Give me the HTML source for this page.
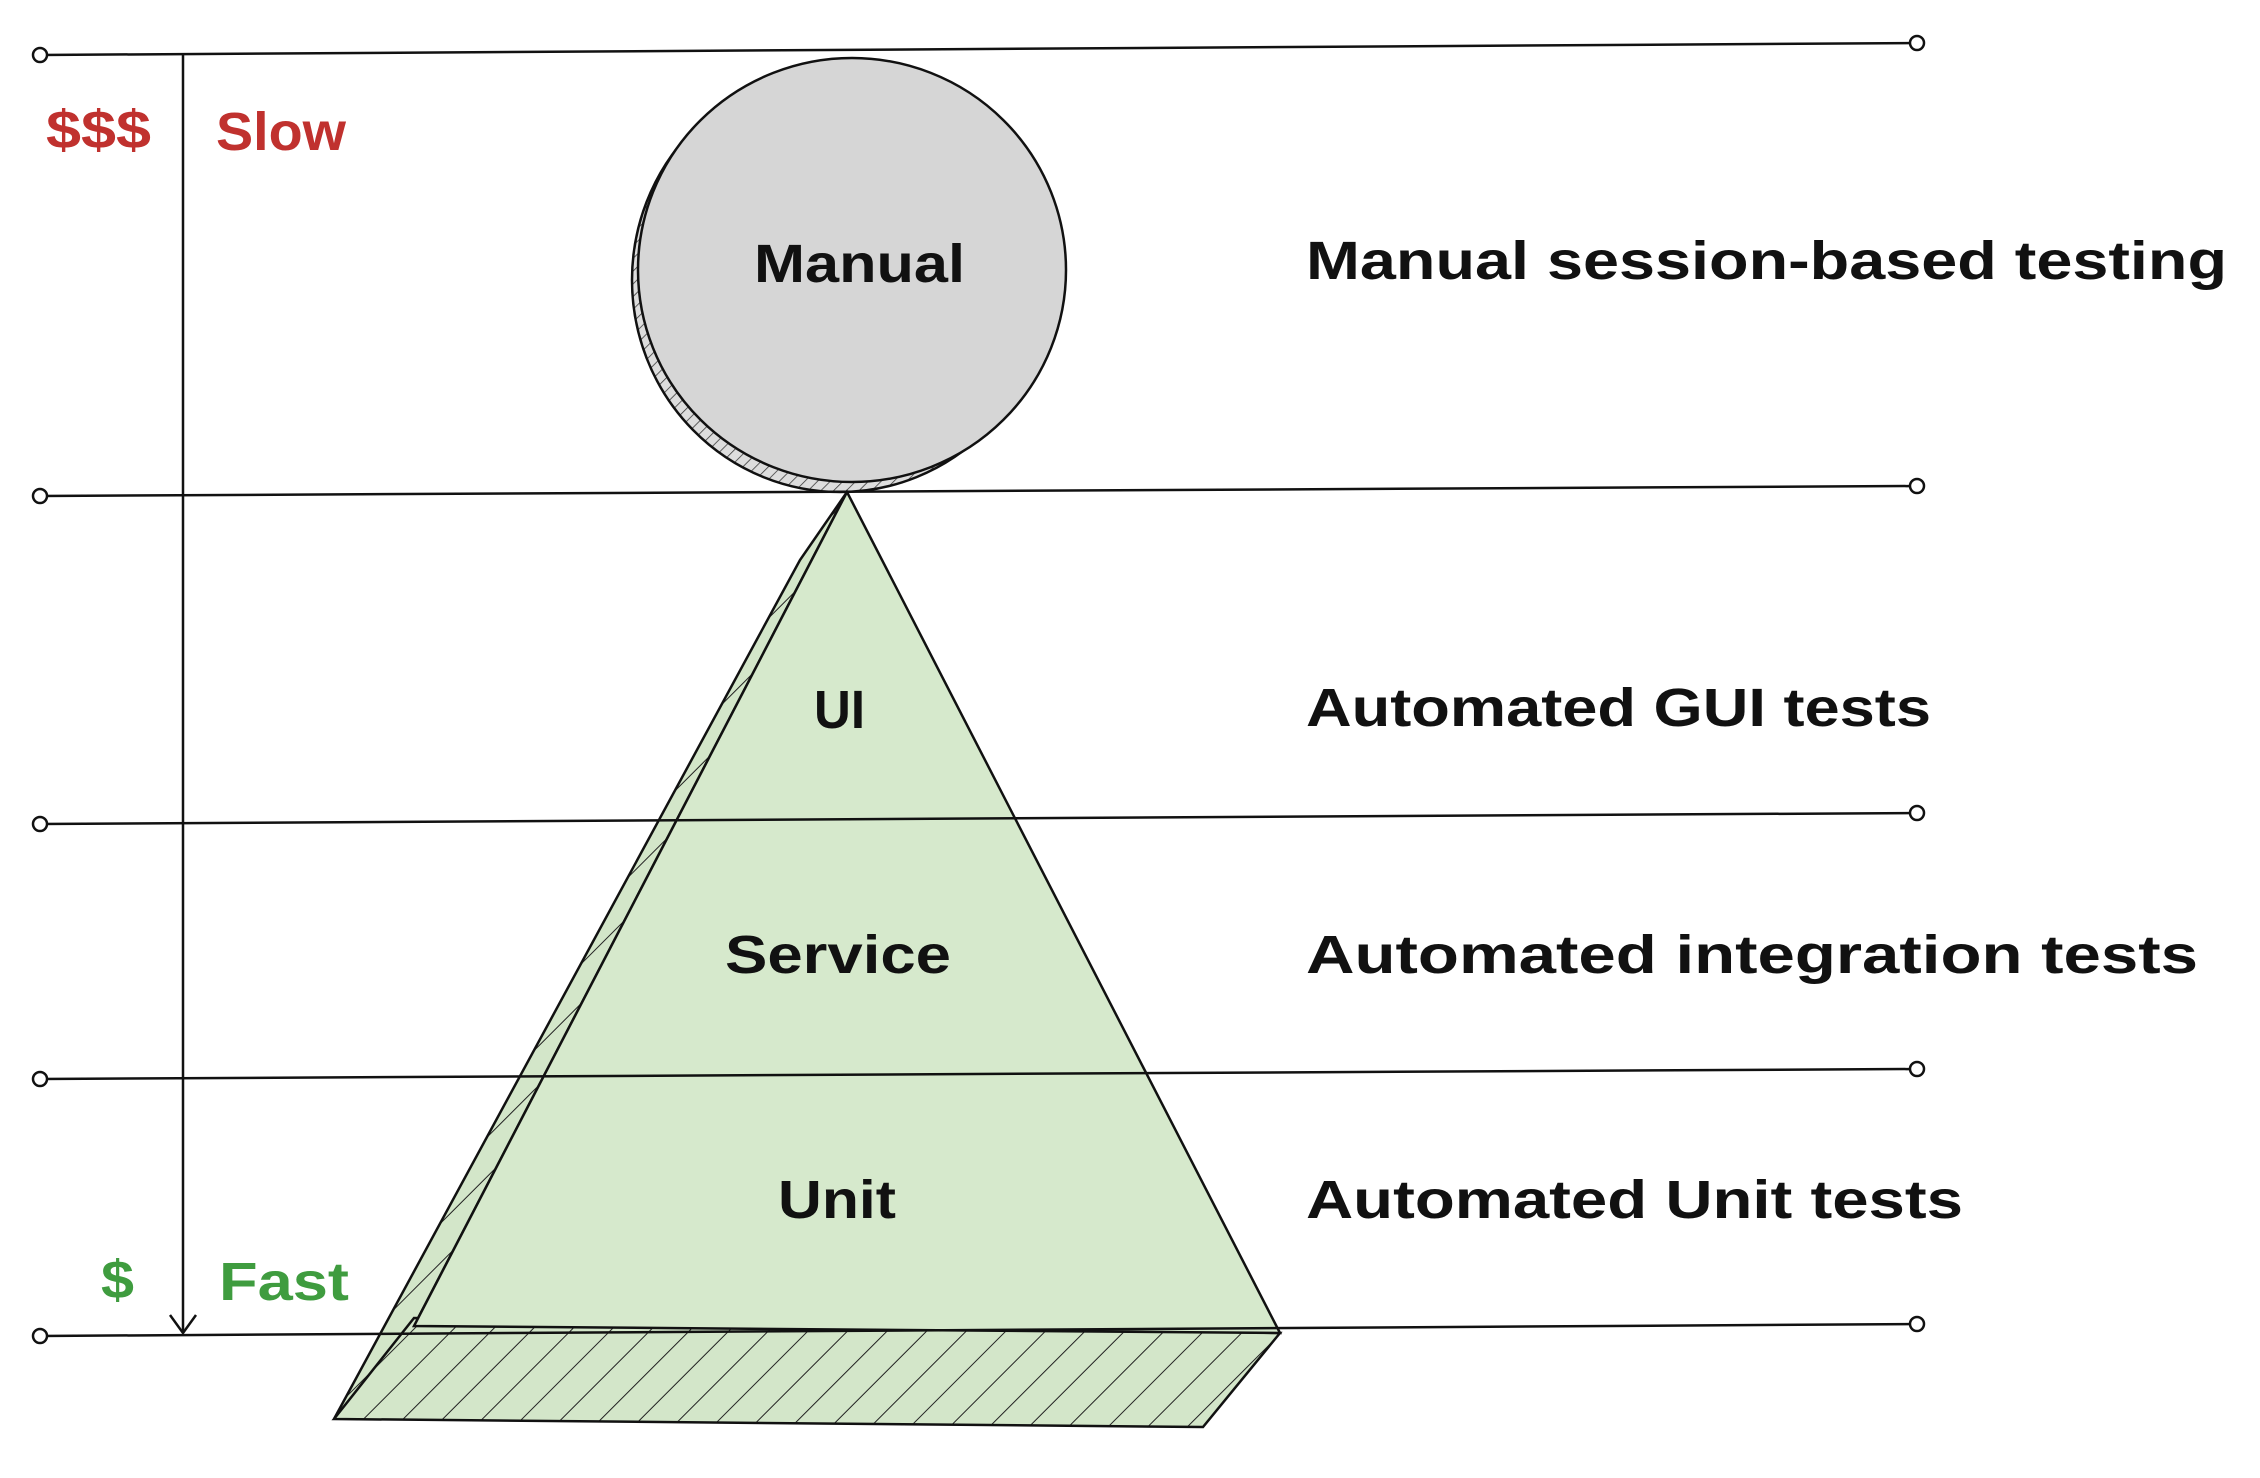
<!DOCTYPE html>
<html><head><meta charset="utf-8"><style>html,body{margin:0;padding:0;background:#fff}svg{display:block}</style></head>
<body>
<svg width="2260" height="1478" viewBox="0 0 2260 1478" xmlns="http://www.w3.org/2000/svg">
<defs>
<pattern id="h" width="28" height="28" patternUnits="userSpaceOnUse" patternTransform="rotate(45)">
<rect width="28" height="28" fill="#d3e6c9"/><line x1="0" y1="0" x2="0" y2="28" stroke="#222" stroke-width="2"/></pattern>
<pattern id="hg" width="9" height="9" patternUnits="userSpaceOnUse" patternTransform="rotate(45)">
<rect width="9" height="9" fill="#ddd"/><line x1="0" y1="0" x2="0" y2="9" stroke="#333" stroke-width="1.5"/></pattern>
</defs>
<g stroke="#111" stroke-width="2.5" fill="none">
<ellipse cx="840" cy="280" rx="208" ry="212" fill="url(#hg)"/>
<ellipse cx="852" cy="270" rx="214" ry="212" fill="#d6d6d6"/>
<path d="M847,492 L800,560 L334,1419 L414,1326 Z" fill="url(#h)"/>
<path d="M334,1419 L1203,1427 L1280,1333 L414,1318 Z" fill="url(#h)"/>
<path d="M847,492 L414,1326 L1280,1333 Z" fill="#d6e9cc"/>
<line x1="40" y1="55" x2="1917" y2="43"/>
<line x1="40" y1="496" x2="1917" y2="486"/>
<line x1="40" y1="824" x2="1917" y2="813"/>
<line x1="40" y1="1079" x2="1917" y2="1069"/>
<line x1="40" y1="1336" x2="1917" y2="1324"/>
<line x1="183" y1="55" x2="183" y2="1333"/>
<path d="M170,1315 L183,1333 L196,1315"/>
</g>
<g fill="#fff" stroke="#111" stroke-width="2.5">
<circle cx="40" cy="55" r="7"/><circle cx="1917" cy="43" r="7"/>
<circle cx="40" cy="496" r="7"/><circle cx="1917" cy="486" r="7"/>
<circle cx="40" cy="824" r="7"/><circle cx="1917" cy="813" r="7"/>
<circle cx="40" cy="1079" r="7"/><circle cx="1917" cy="1069" r="7"/>
<circle cx="40" cy="1336" r="7"/><circle cx="1917" cy="1324" r="7"/>
</g>
<g font-family="Liberation Sans, sans-serif" font-size="54" font-weight="bold" dominant-baseline="central" fill="#111">
<text x="46" y="130" fill="#c0312e" textLength="105" lengthAdjust="spacingAndGlyphs">$$$</text>
<text x="216" y="132" fill="#c0312e" textLength="130" lengthAdjust="spacingAndGlyphs">Slow</text>
<text x="101" y="1280" fill="#3f9c3f" textLength="33" lengthAdjust="spacingAndGlyphs">$</text>
<text x="219" y="1282" fill="#3f9c3f" textLength="130" lengthAdjust="spacingAndGlyphs">Fast</text>
<text x="754" y="264" textLength="211" lengthAdjust="spacingAndGlyphs">Manual</text>
<text x="814" y="710" textLength="51" lengthAdjust="spacingAndGlyphs">UI</text>
<text x="725" y="955" textLength="226" lengthAdjust="spacingAndGlyphs">Service</text>
<text x="778" y="1200" textLength="118" lengthAdjust="spacingAndGlyphs">Unit</text>
<text x="1306" y="261" textLength="921" lengthAdjust="spacingAndGlyphs">Manual session-based testing</text>
<text x="1306" y="708" textLength="625" lengthAdjust="spacingAndGlyphs">Automated GUI tests</text>
<text x="1306" y="955" textLength="892" lengthAdjust="spacingAndGlyphs">Automated integration tests</text>
<text x="1306" y="1200" textLength="657" lengthAdjust="spacingAndGlyphs">Automated Unit tests</text>
</g>
</svg>
</body></html>
